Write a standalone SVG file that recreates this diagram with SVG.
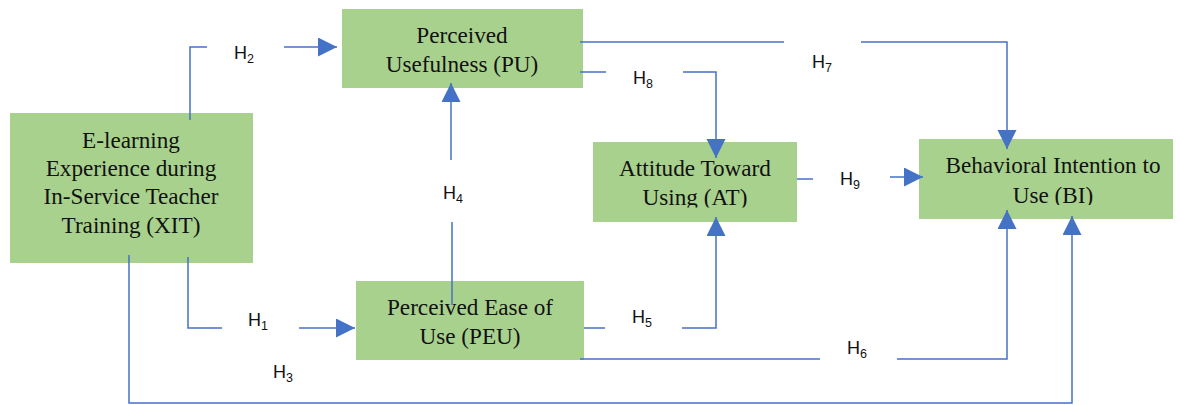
<svg xmlns="http://www.w3.org/2000/svg" width="1180" height="405" viewBox="0 0 1180 405">
<style>
.box{fill:#A9D18E;}
.nt{font-family:"Liberation Serif","Times New Roman",serif;font-size:23.2px;fill:#111;text-anchor:middle;}
.hl{font-family:"Liberation Sans",Arial,sans-serif;font-size:18px;fill:#111;}
.sub{font-size:12.5px;}
.cn{fill:none;stroke:#4472C4;stroke-width:1.5;}
</style>
<defs>
<marker id="ah" markerUnits="userSpaceOnUse" markerWidth="20" markerHeight="20" refX="19" refY="9.5" orient="auto">
<path d="M0,0 L19,9.5 L0,19 Z" fill="#4472C4"/>
</marker>
<clipPath id="clipAT"><rect x="593" y="142" width="204" height="65.5"/></clipPath>
<clipPath id="clipBI"><rect x="919" y="139" width="254" height="66"/></clipPath>
</defs>
<rect width="1180" height="405" fill="#fff"/>

<g id="PU">
<rect class="box" x="342" y="9" width="241" height="79"/>
<text class="nt" x="462" y="43">Perceived</text>
<text class="nt" x="462" y="72">Usefulness (PU)</text>
</g>
<g id="XIT">
<rect class="box" x="10" y="113" width="243" height="150"/>
<text class="nt" x="131" y="148">E-learning</text>
<text class="nt" x="131" y="176">Experience during</text>
<text class="nt" x="131" y="204">In-Service Teacher</text>
<text class="nt" x="131" y="233">Training (XIT)</text>
</g>
<g id="AT">
<rect class="box" x="593" y="142" width="204" height="80"/>
<g clip-path="url(#clipAT)">
<text class="nt" x="695" y="176">Attitude Toward</text>
<text class="nt" x="695" y="205">Using (AT)</text>
</g>
</g>
<g id="BI">
<rect class="box" x="919" y="139" width="254" height="80"/>
<g clip-path="url(#clipBI)">
<text class="nt" x="1053" y="173">Behavioral Intention to</text>
<text class="nt" x="1053" y="203">Use (BI)</text>
</g>
</g>
<g id="PEU">
<rect class="box" x="356" y="281" width="228" height="79"/>
<text class="nt" x="470" y="315">Perceived Ease of</text>
<text class="nt" x="470" y="344">Use (PEU)</text>
</g>

<g id="connectors">
<path class="cn" d="M190,120 V47 H207"/>
<path class="cn" d="M284,47 H337" marker-end="url(#ah)"/>
<path class="cn" d="M452,305 V222"/>
<path class="cn" d="M451,160 V83" marker-end="url(#ah)"/>
<path class="cn" d="M580,42 H784"/>
<path class="cn" d="M861,42 H1007 V149" marker-end="url(#ah)"/>
<path class="cn" d="M580,72 H606"/>
<path class="cn" d="M683,72 H716 V158" marker-end="url(#ah)"/>
<path class="cn" d="M797,179 H813"/>
<path class="cn" d="M890,177 H923" marker-end="url(#ah)"/>
<path class="cn" d="M584,328 H605"/>
<path class="cn" d="M682,328 H716 V217" marker-end="url(#ah)"/>
<path class="cn" d="M580,359 H820"/>
<path class="cn" d="M897,359 H1007 V210" marker-end="url(#ah)"/>
<path class="cn" d="M188,257 V328 H222"/>
<path class="cn" d="M299,328 H355" marker-end="url(#ah)"/>
<path class="cn" d="M129,255 V403 H1072 V216" marker-end="url(#ah)"/>
</g>

<g id="labels">
<text class="hl" x="234" y="59">H<tspan class="sub" dy="4">2</tspan></text>
<text class="hl" x="443" y="199">H<tspan class="sub" dy="4">4</tspan></text>
<text class="hl" x="633" y="84">H<tspan class="sub" dy="4">8</tspan></text>
<text class="hl" x="812" y="68">H<tspan class="sub" dy="4">7</tspan></text>
<text class="hl" x="840" y="185">H<tspan class="sub" dy="4">9</tspan></text>
<text class="hl" x="248" y="326">H<tspan class="sub" dy="4">1</tspan></text>
<text class="hl" x="273" y="378">H<tspan class="sub" dy="4">3</tspan></text>
<text class="hl" x="632" y="323">H<tspan class="sub" dy="4">5</tspan></text>
<text class="hl" x="847" y="354">H<tspan class="sub" dy="4">6</tspan></text>
</g>
</svg>
